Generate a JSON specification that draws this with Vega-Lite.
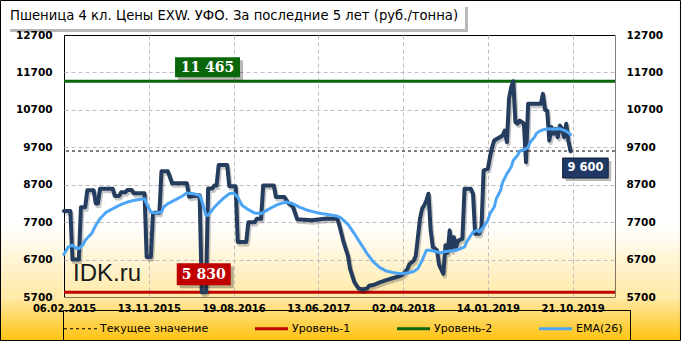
{
  "$schema": "https://vega.github.io/schema/vega-lite/v6.json",
  "width": 551,
  "height": 262,
  "autosize": {"type": "none"},
  "padding": {"left": 64, "top": 35, "right": 66, "bottom": 44},
  "background": "#ffffff",
  "title": {
    "text": "Пшеница  4 кл. Цены EXW.  УФО. За последние 5 лет (руб./тонна)",
    "anchor": "start", "frame": "group", "offset": 0, "dx": -54, "dy": 33,
    "baseline": "alphabetic", "font": "DejaVu Sans", "fontSize": 13.2, "fontWeight": "normal", "color": "#000000"
  },
  "datasets": {
    "levels": [
      {"series": "Текущее значение", "value": 9600},
      {"series": "Уровень-1", "value": 5830},
      {"series": "Уровень-2", "value": 11465}
    ],
    "price": [
      {"i":0,"v":8000},{"i":3,"v":8000},{"i":4,"v":6700},{"i":7,"v":6700},{"i":8,"v":8100},{"i":10,"v":8100},
      {"i":11,"v":8550},{"i":14,"v":8550},{"i":15,"v":8200},{"i":16,"v":8200},{"i":17,"v":8590},{"i":23,"v":8590},
      {"i":24,"v":8400},{"i":26,"v":8400},{"i":27,"v":8500},{"i":29,"v":8500},{"i":30,"v":8560},{"i":32,"v":8560},
      {"i":33,"v":8470},{"i":38,"v":8470},{"i":39,"v":6770},{"i":41,"v":6770},{"i":42,"v":7950},{"i":45,"v":7950},
      {"i":46,"v":9060},{"i":49,"v":9060},{"i":51,"v":8740},{"i":58,"v":8740},{"i":59,"v":8380},{"i":64,"v":8420},
      {"i":65,"v":5830},{"i":67,"v":5830},{"i":68,"v":8600},{"i":70,"v":8600},{"i":71,"v":8680},{"i":72,"v":8680},
      {"i":73,"v":9230},{"i":77,"v":9230},{"i":78,"v":8660},{"i":81,"v":8660},{"i":82,"v":7170},{"i":86,"v":7170},
      {"i":87,"v":7700},{"i":90,"v":7700},{"i":91,"v":7790},{"i":93,"v":7790},{"i":94,"v":8680},{"i":99,"v":8680},
      {"i":100,"v":8370},{"i":104,"v":8370},{"i":106,"v":8200},{"i":108,"v":8120},{"i":110,"v":7780},{"i":117,"v":7750},
      {"i":120,"v":7770},{"i":124,"v":7800},{"i":129,"v":7790},{"i":130,"v":7600},{"i":132,"v":7150},{"i":134,"v":6800},
      {"i":135,"v":6450},{"i":137,"v":6100},{"i":139,"v":5930},{"i":141,"v":5900},{"i":143,"v":5930},{"i":144,"v":6000},
      {"i":146,"v":6020},{"i":149,"v":6090},{"i":152,"v":6150},{"i":155,"v":6200},{"i":158,"v":6250},{"i":160,"v":6310},
      {"i":162,"v":6440},{"i":163,"v":6580},{"i":165,"v":6670},{"i":166,"v":6800},{"i":167,"v":7300},{"i":168,"v":7800},
      {"i":169,"v":8060},{"i":170,"v":8150},{"i":171,"v":8280},{"i":172,"v":8460},{"i":173,"v":7500},{"i":174,"v":7040},
      {"i":176,"v":6950},{"i":177,"v":6560},{"i":179,"v":6320},{"i":180,"v":7080},{"i":181,"v":6880},{"i":182,"v":7480},
      {"i":183,"v":6950},{"i":184,"v":7300},{"i":185,"v":7040},{"i":186,"v":7200},{"i":188,"v":7260},{"i":189,"v":8590},
      {"i":192,"v":8590},{"i":193,"v":8460},{"i":194,"v":7390},{"i":196,"v":7390},{"i":197,"v":7570},{"i":198,"v":9080},
      {"i":200,"v":9130},{"i":201,"v":9440},{"i":202,"v":9700},{"i":203,"v":9880},{"i":205,"v":9950},{"i":207,"v":10015},
      {"i":208,"v":10149},{"i":209,"v":9840},{"i":210,"v":11000},{"i":211,"v":11300},{"i":212,"v":11465},{"i":213,"v":10370},
      {"i":214,"v":10330},{"i":215,"v":10415},{"i":217,"v":10330},{"i":218,"v":9300},{"i":219,"v":10860},{"i":225,"v":10860},
      {"i":226,"v":11127},{"i":227,"v":10700},{"i":228,"v":10680},{"i":229,"v":9880},{"i":230,"v":10240},{"i":231,"v":10060},
      {"i":232,"v":10190},{"i":233,"v":9970},{"i":234,"v":10280},{"i":235,"v":10200},{"i":236,"v":9970},{"i":237,"v":10330},
      {"i":238,"v":9880},{"i":239,"v":9600}
    ],
    "ema": [
      {"i":0,"v":6840},{"i":2,"v":7036},{"i":4,"v":7082},{"i":6,"v":6993},{"i":7,"v":6993},{"i":9,"v":7100},
      {"i":10,"v":7215},{"i":13,"v":7393},{"i":15,"v":7615},{"i":17,"v":7793},{"i":20,"v":7969},{"i":24,"v":8087},
      {"i":27,"v":8175},{"i":30,"v":8236},{"i":33,"v":8281},{"i":36,"v":8309},{"i":38,"v":8327},{"i":39,"v":8193},
      {"i":41,"v":7969},{"i":43,"v":7943},{"i":46,"v":7969},{"i":47,"v":8103},{"i":49,"v":8193},{"i":52,"v":8281},
      {"i":55,"v":8370},{"i":58,"v":8476},{"i":61,"v":8460},{"i":64,"v":8415},{"i":65,"v":8281},{"i":67,"v":7882},
      {"i":68,"v":7882},{"i":71,"v":8103},{"i":75,"v":8327},{"i":78,"v":8460},{"i":80,"v":8476},{"i":82,"v":8370},
      {"i":84,"v":8149},{"i":87,"v":8033},{"i":90,"v":7943},{"i":93,"v":7927},{"i":97,"v":8060},{"i":101,"v":8175},
      {"i":105,"v":8236},{"i":108,"v":8193},{"i":111,"v":8103},{"i":115,"v":8015},{"i":120,"v":7943},{"i":125,"v":7900},
      {"i":129,"v":7860},{"i":131,"v":7800},{"i":134,"v":7640},{"i":137,"v":7393},{"i":140,"v":7127},{"i":143,"v":6860},
      {"i":146,"v":6638},{"i":149,"v":6487},{"i":152,"v":6396},{"i":156,"v":6343},{"i":159,"v":6325},{"i":162,"v":6340},
      {"i":165,"v":6380},{"i":167,"v":6460},{"i":169,"v":6682},{"i":171,"v":6947},{"i":173,"v":6947},{"i":176,"v":6905},
      {"i":178,"v":6878},{"i":179,"v":6905},{"i":182,"v":6930},{"i":185,"v":6947},{"i":189,"v":7036},{"i":190,"v":7170},
      {"i":193,"v":7436},{"i":195,"v":7482},{"i":196,"v":7436},{"i":198,"v":7570},{"i":200,"v":7749},{"i":201,"v":7927},
      {"i":203,"v":8103},{"i":204,"v":8327},{"i":206,"v":8548},{"i":207,"v":8770},{"i":209,"v":8993},{"i":211,"v":9170},
      {"i":212,"v":9348},{"i":214,"v":9481},{"i":215,"v":9596},{"i":217,"v":9633},{"i":219,"v":9704},{"i":220,"v":9838},
      {"i":222,"v":9971},{"i":223,"v":10076},{"i":225,"v":10149},{"i":228,"v":10193},{"i":231,"v":10184},{"i":234,"v":10193},
      {"i":237,"v":10131},{"i":239,"v":10042}
    ]
  },
  "resolve": {"axis": {"x": "independent", "y": "independent"}},
  "layer": [
    {
      "data": {"values": [{}]},
      "mark": {"type": "rect", "strokeWidth": 0, "fill": {"gradient": "linear", "x1": 0, "y1": 0, "x2": 0, "y2": 1, "stops": [{"offset": 0, "color": "#ffffff"}, {"offset": 0.724, "color": "#ffffff"}, {"offset": 1, "color": "#FFE9A6"}]}},
      "encoding": {
        "x": {"datum": -31, "type": "quantitative", "scale": {"domain": [0, 260], "nice": false, "zero": false},
          "axis": {"orient": "bottom", "values": [40, 80, 120, 160, 200, 240], "grid": true, "gridColor": "#BEBEBE", "gridDash": [4, 3], "gridWidth": 1, "labels": false, "ticks": false, "domain": false, "title": null, "zindex": 0}},
        "x2": {"datum": -0.24},
        "y": {"datum": 12700, "type": "quantitative", "scale": {"domain": [5700, 12700], "nice": false, "zero": false},
          "axis": {"orient": "left", "values": [6700, 7700, 8700, 9700, 10700, 11700], "grid": true, "gridColor": "#BEBEBE", "gridDash": [4, 3], "gridWidth": 1, "labels": false, "ticks": false, "domain": false, "title": null, "zindex": 0}},
        "y2": {"datum": 5686.7}
      }
    },
    {
      "data": {"values": [{}]},
      "mark": {"type": "rect", "strokeWidth": 0, "fill": {"gradient": "linear", "x1": 0, "y1": 0, "x2": 0, "y2": 1, "stops": [{"offset": 0, "color": "#ffffff"}, {"offset": 0.724, "color": "#ffffff"}, {"offset": 1, "color": "#FFE9A6"}]}},
      "encoding": {
        "x": {"datum": 260.24, "type": "quantitative", "scale": {"domain": [0, 260], "nice": false, "zero": false}, "axis": null},
        "x2": {"datum": 292},
        "y": {"datum": 12700, "type": "quantitative", "scale": {"domain": [5700, 12700], "nice": false, "zero": false}, "axis": null},
        "y2": {"datum": 5686.7}
      }
    },
    {
      "data": {"values": [{}]},
      "mark": {"type": "rect", "strokeWidth": 0, "fill": {"gradient": "linear", "x1": 0, "y1": 0, "x2": 0, "y2": 1, "stops": [{"offset": 0, "color": "#FFE9A6"}, {"offset": 1, "color": "#FFC20E"}]}},
      "encoding": {
        "x": {"datum": -31, "type": "quantitative", "scale": {"domain": [0, 260], "nice": false, "zero": false}, "axis": null},
        "x2": {"datum": 292},
        "y": {"datum": 5686.7, "type": "quantitative", "scale": {"domain": [5700, 12700], "nice": false, "zero": false}, "axis": null},
        "y2": {"datum": 4524}
      }
    },
    {
      "data": {"values": [{}]},
      "mark": {"type": "rect", "fill": null, "fillOpacity": 0, "stroke": "#000000", "strokeWidth": 1},
      "encoding": {
        "x": {"datum": -29.96, "type": "quantitative", "scale": {"domain": [0, 260], "nice": false, "zero": false}, "axis": null},
        "x2": {"datum": 290.9},
        "y": {"datum": 13621.7, "type": "quantitative", "scale": {"domain": [5700, 12700], "nice": false, "zero": false}, "axis": null},
        "y2": {"datum": 4537.8}
      }
    },
    {
      "data": {"values": [{}]},
      "mark": {"type": "rect", "fill": "#000000", "opacity": 0.28, "xOffset": 3, "x2Offset": 3, "yOffset": 3, "y2Offset": 3},
      "encoding": {
        "x": {"datum": -26.9, "type": "quantitative", "scale": {"domain": [0, 260], "nice": false, "zero": false}, "axis": null},
        "x2": {"datum": 189.2},
        "y": {"datum": 13528, "type": "quantitative", "scale": {"domain": [5700, 12700], "nice": false, "zero": false}, "axis": null},
        "y2": {"datum": 12860}
      }
    },
    {
      "data": {"values": [{}]},
      "mark": {"type": "rect", "fill": "#ffffff"},
      "encoding": {
        "x": {"datum": -26.9, "type": "quantitative", "scale": {"domain": [0, 260], "nice": false, "zero": false}, "axis": null},
        "x2": {"datum": 189.2},
        "y": {"datum": 13528, "type": "quantitative", "scale": {"domain": [5700, 12700], "nice": false, "zero": false}, "axis": null},
        "y2": {"datum": 12860}
      }
    },
    {
      "data": {"values": [{}]},
      "mark": {"type": "text", "text": "IDK.ru", "align": "left", "baseline": "alphabetic", "font": "Liberation Sans", "fontSize": 24, "fill": "#1a1a1a"},
      "encoding": {
        "x": {"datum": 4.25, "type": "quantitative", "scale": {"domain": [0, 260], "nice": false, "zero": false}, "axis": null},
        "y": {"datum": 6128, "type": "quantitative", "scale": {"domain": [5700, 12700], "nice": false, "zero": false}, "axis": null}
      }
    },
    {
      "data": {"name": "levels"},
      "mark": {"type": "rule"},
      "encoding": {
        "y": {"field": "value", "type": "quantitative", "scale": {"domain": [5700, 12700], "nice": false, "zero": false}, "axis": null},
        "color": {"field": "series", "type": "nominal", "legend": {"title": null},
          "scale": {"domain": ["Текущее значение", "Уровень-1", "Уровень-2", "EMA(26)"], "range": ["#000000", "#C00000", "#0A660A", "#4DA6F5"]}},
        "strokeDash": {"field": "series", "type": "nominal", "legend": {"title": null},
          "scale": {"domain": ["Текущее значение", "Уровень-1", "Уровень-2", "EMA(26)"], "range": [[3, 3], [1, 0], [1, 0], [1, 0]]}},
        "strokeWidth": {"field": "series", "type": "nominal", "legend": {"title": null},
          "scale": {"type": "ordinal", "domain": ["Текущее значение", "Уровень-1", "Уровень-2", "EMA(26)"], "range": [1, 3, 3, 3]}}
      }
    },
    {
      "data": {"name": "price"},
      "mark": {"type": "line", "stroke": "#000000", "opacity": 0.22, "strokeWidth": 4, "strokeJoin": "round", "xOffset": 1.5, "yOffset": 2.5},
      "encoding": {
        "x": {"field": "i", "type": "quantitative", "scale": {"domain": [0, 260], "nice": false, "zero": false}, "axis": null},
        "y": {"field": "v", "type": "quantitative", "scale": {"domain": [5700, 12700], "nice": false, "zero": false}, "axis": null}
      }
    },
    {
      "data": {"name": "price"},
      "mark": {"type": "line", "stroke": "#243C5E", "strokeWidth": 4, "strokeJoin": "round", "strokeCap": "round"},
      "encoding": {
        "x": {"field": "i", "type": "quantitative", "scale": {"domain": [0, 260], "nice": false, "zero": false},
          "axis": {"orient": "bottom", "values": [0, 40, 80, 120, 160, 200, 240], "labelExpr": "['06.02.2015','13.11.2015','19.08.2016','13.06.2017','02.04.2018','14.01.2019','21.10.2019'][round(datum.value/40)]", "grid": false, "ticks": false, "domain": false, "labelFont": "DejaVu Sans", "labelFontSize": 10, "labelFontWeight": "bold", "labelColor": "#000000", "labelPadding": 6, "labelOverlap": false, "labelFlush": false, "labelBound": false, "title": null, "zindex": 1}},
        "y": {"field": "v", "type": "quantitative", "scale": {"domain": [5700, 12700], "nice": false, "zero": false},
          "axis": {"orient": "left", "values": [5700, 6700, 7700, 8700, 9700, 10700, 11700, 12700], "format": "d", "grid": false, "ticks": false, "domain": false, "labelFont": "DejaVu Sans", "labelFontSize": 10.5, "labelFontWeight": "bold", "labelColor": "#000000", "labelPadding": 12, "labelOverlap": false, "labelFlush": false, "title": null, "zindex": 1}}
      }
    },
    {
      "data": {"name": "ema"},
      "mark": {"type": "line", "strokeJoin": "round", "strokeCap": "round"},
      "encoding": {
        "x": {"field": "i", "type": "quantitative", "scale": {"domain": [0, 260], "nice": false, "zero": false}, "axis": null},
        "y": {"field": "v", "type": "quantitative", "scale": {"domain": [5700, 12700], "nice": false, "zero": false},
          "axis": {"orient": "right", "values": [5700, 6700, 7700, 8700, 9700, 10700, 11700, 12700], "format": "d", "grid": false, "ticks": false, "domain": false, "labelFont": "DejaVu Sans", "labelFontSize": 10.5, "labelFontWeight": "bold", "labelColor": "#000000", "labelPadding": 11, "labelOverlap": false, "labelFlush": false, "title": null, "zindex": 1}},
        "color": {"datum": "EMA(26)", "type": "nominal", "legend": {"title": null},
          "scale": {"domain": ["Текущее значение", "Уровень-1", "Уровень-2", "EMA(26)"], "range": ["#000000", "#C00000", "#0A660A", "#4DA6F5"]}},
        "strokeDash": {"datum": "EMA(26)", "type": "nominal", "legend": {"title": null},
          "scale": {"domain": ["Текущее значение", "Уровень-1", "Уровень-2", "EMA(26)"], "range": [[3, 3], [1, 0], [1, 0], [1, 0]]}},
        "strokeWidth": {"datum": "EMA(26)", "type": "nominal", "legend": {"title": null},
          "scale": {"type": "ordinal", "domain": ["Текущее значение", "Уровень-1", "Уровень-2", "EMA(26)"], "range": [1, 3, 3, 3]}}
      }
    },
    {
      "data": {"name": "levels"},
      "transform": [{"filter": {"field": "series", "equal": "Уровень-2"}}],
      "layer": [
        {"mark": {"type": "rect", "fill": "#000000", "opacity": 0.28, "yOffset": -21, "y2Offset": -1, "xOffset": 3, "x2Offset": 3},
         "encoding": {"x": {"datum": 52.4, "type": "quantitative", "scale": {"domain": [0, 260], "nice": false, "zero": false}, "axis": null}, "x2": {"datum": 83.05},
           "y": {"field": "value", "type": "quantitative", "scale": {"domain": [5700, 12700], "nice": false, "zero": false}, "axis": null}, "y2": {"field": "value"}}},
        {"mark": {"type": "rect", "fill": "#0A660A", "yOffset": -24, "y2Offset": -4},
         "encoding": {"x": {"datum": 52.4, "type": "quantitative", "scale": {"domain": [0, 260], "nice": false, "zero": false}, "axis": null}, "x2": {"datum": 83.05},
           "y": {"field": "value", "type": "quantitative", "scale": {"domain": [5700, 12700], "nice": false, "zero": false}, "axis": null}, "y2": {"field": "value"}}},
        {"mark": {"type": "text", "align": "center", "baseline": "middle", "yOffset": -13.5, "font": "DejaVu Serif", "fontSize": 14, "fontWeight": "bold", "fill": "#ffffff"},
         "encoding": {"x": {"datum": 67.7, "type": "quantitative", "scale": {"domain": [0, 260], "nice": false, "zero": false}, "axis": null},
           "y": {"field": "value", "type": "quantitative", "scale": {"domain": [5700, 12700], "nice": false, "zero": false}, "axis": null},
           "text": {"field": "value", "type": "quantitative", "format": ",d"}}}
      ]
    },
    {
      "data": {"name": "levels"},
      "transform": [{"filter": {"field": "series", "equal": "Уровень-1"}}],
      "layer": [
        {"mark": {"type": "rect", "fill": "#000000", "opacity": 0.28, "yOffset": -26, "y2Offset": -4, "xOffset": 3, "x2Offset": 3},
         "encoding": {"x": {"datum": 53.2, "type": "quantitative", "scale": {"domain": [0, 260], "nice": false, "zero": false}, "axis": null}, "x2": {"datum": 78.7},
           "y": {"field": "value", "type": "quantitative", "scale": {"domain": [5700, 12700], "nice": false, "zero": false}, "axis": null}, "y2": {"field": "value"}}},
        {"mark": {"type": "rect", "fill": "#C00000", "yOffset": -29, "y2Offset": -7},
         "encoding": {"x": {"datum": 53.2, "type": "quantitative", "scale": {"domain": [0, 260], "nice": false, "zero": false}, "axis": null}, "x2": {"datum": 78.7},
           "y": {"field": "value", "type": "quantitative", "scale": {"domain": [5700, 12700], "nice": false, "zero": false}, "axis": null}, "y2": {"field": "value"}}},
        {"mark": {"type": "text", "align": "center", "baseline": "middle", "yOffset": -17.5, "font": "DejaVu Serif", "fontSize": 14, "fontWeight": "bold", "fill": "#ffffff"},
         "encoding": {"x": {"datum": 65.95, "type": "quantitative", "scale": {"domain": [0, 260], "nice": false, "zero": false}, "axis": null},
           "y": {"field": "value", "type": "quantitative", "scale": {"domain": [5700, 12700], "nice": false, "zero": false}, "axis": null},
           "text": {"field": "value", "type": "quantitative", "format": ",d"}}}
      ]
    },
    {
      "data": {"name": "levels"},
      "transform": [{"filter": {"field": "series", "equal": "Текущее значение"}}],
      "layer": [
        {"mark": {"type": "rect", "fill": "#000000", "opacity": 0.28, "yOffset": 10, "y2Offset": 30, "xOffset": 3, "x2Offset": 3},
         "encoding": {"x": {"datum": 235.3, "type": "quantitative", "scale": {"domain": [0, 260], "nice": false, "zero": false}, "axis": null}, "x2": {"datum": 256.8},
           "y": {"field": "value", "type": "quantitative", "scale": {"domain": [5700, 12700], "nice": false, "zero": false}, "axis": null}, "y2": {"field": "value"}}},
        {"mark": {"type": "rect", "fill": "#1F3864", "stroke": "#0E1E3A", "strokeWidth": 1, "yOffset": 7, "y2Offset": 27},
         "encoding": {"x": {"datum": 235.3, "type": "quantitative", "scale": {"domain": [0, 260], "nice": false, "zero": false}, "axis": null}, "x2": {"datum": 256.8},
           "y": {"field": "value", "type": "quantitative", "scale": {"domain": [5700, 12700], "nice": false, "zero": false}, "axis": null}, "y2": {"field": "value"}}},
        {"mark": {"type": "text", "align": "center", "baseline": "middle", "yOffset": 17, "font": "DejaVu Sans", "fontSize": 11.5, "fontWeight": "bold", "fill": "#ffffff"},
         "encoding": {"x": {"datum": 246.05, "type": "quantitative", "scale": {"domain": [0, 260], "nice": false, "zero": false}, "axis": null},
           "y": {"field": "value", "type": "quantitative", "scale": {"domain": [5700, 12700], "nice": false, "zero": false}, "axis": null},
           "text": {"field": "value", "type": "quantitative", "format": ",d"}}}
      ]
    }
  ],
  "config": {
    "view": {"stroke": "#000000", "strokeWidth": 1,
      "fill": {"gradient": "linear", "x1": 0, "y1": 0, "x2": 0, "y2": 1, "stops": [{"offset": 0, "color": "#ffffff"}, {"offset": 0.725, "color": "#ffffff"}, {"offset": 1, "color": "#FFE9A6"}]}},
    "locale": {"number": {"decimal": ",", "thousands": " ", "grouping": [3], "currency": ["", ""]}},
    "legend": {
      "orient": "none", "legendX": -1, "legendY": 275, "direction": "horizontal",
      "symbolType": "M-1.65,0H1.65", "symbolSize": 400, "labelFont": "DejaVu Sans", "labelFontSize": 11, "labelColor": "#000000",
      "labelOffset": 9, "columnPadding": 40, "padding": 7, "strokeColor": "#000000", "fillColor": null
    }
  }
}
